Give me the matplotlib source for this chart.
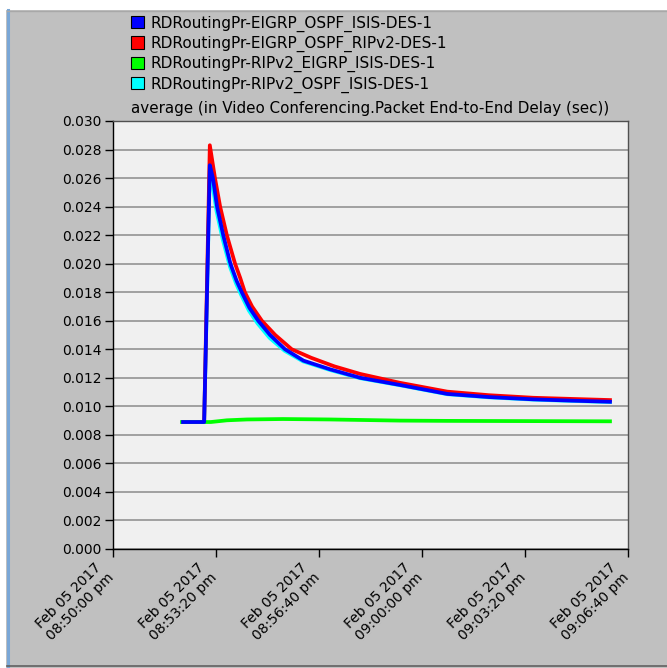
import matplotlib
matplotlib.use("Agg")
import matplotlib.pyplot as plt
import matplotlib.transforms as mtransforms
from matplotlib.patches import Patch, Rectangle
from matplotlib.lines import Line2D

# ---- data (seconds after 08:50:00 pm) ----
series_names = [
    "RDRoutingPr-EIGRP_OSPF_ISIS-DES-1",
    "RDRoutingPr-EIGRP_OSPF_RIPv2-DES-1",
    "RDRoutingPr-RIPv2_EIGRP_ISIS-DES-1",
    "RDRoutingPr-RIPv2_OSPF_ISIS-DES-1",
]
series_colors = ["#0000ff", "#ff0000", "#00ff00", "#00ffff"]

blue_t = [136, 177, 188, 194, 202, 214, 228, 240, 250, 265, 282, 305, 334, 370, 421,
          480, 557, 649, 730, 816, 890, 965]
blue_v = [0.0089, 0.0089, 0.0269, 0.0260, 0.0240, 0.0220, 0.0200, 0.0188, 0.0180, 0.0169,
          0.0160, 0.0150, 0.0140, 0.0132, 0.0126, 0.0120, 0.0115, 0.01087, 0.01065, 0.01049,
          0.01040, 0.01032]

red_t = [136, 177, 188, 198, 208, 221, 237, 247, 256, 270, 289, 315, 347, 385, 430,
         480, 557, 649, 730, 816, 890, 965]
red_v = [0.0089, 0.0089, 0.0283, 0.0260, 0.0240, 0.0220, 0.0200, 0.0190, 0.0180, 0.0170,
         0.0160, 0.0150, 0.0140, 0.0134, 0.0128, 0.01227, 0.01165, 0.01103, 0.01078, 0.01060,
         0.01052, 0.01044]

green_t = [134, 177, 190, 221, 260, 330, 420, 557, 650, 751, 860, 965]
green_v = [0.0089, 0.0089, 0.00890, 0.00902, 0.00908, 0.00911, 0.00908, 0.00900, 0.00898, 0.00897,
           0.00896, 0.00895]

cyan_t = [136, 177, 188, 193, 201, 213, 227, 239, 249, 264, 281, 304, 333, 369, 421,
          480, 557, 649, 730, 816, 890, 965]
cyan_v = [0.0089, 0.0089, 0.0265, 0.0256, 0.0237, 0.0217, 0.0198, 0.0186, 0.0178, 0.0167,
          0.0158, 0.0148, 0.0139, 0.01315, 0.01255, 0.01197, 0.01148, 0.01085, 0.01063, 0.01047,
          0.01038, 0.01030]

x_ticks = [0, 200, 400, 600, 800, 1000]
x_tick_labels = [
    "Feb 05 2017\n08:50:00 pm",
    "Feb 05 2017\n08:53:20 pm",
    "Feb 05 2017\n08:56:40 pm",
    "Feb 05 2017\n09:00:00 pm",
    "Feb 05 2017\n09:03:20 pm",
    "Feb 05 2017\n09:06:40 pm",
]
y_ticks = [0.000, 0.002, 0.004, 0.006, 0.008, 0.010, 0.012, 0.014, 0.016, 0.018,
           0.020, 0.022, 0.024, 0.026, 0.028, 0.030]
title = "average (in Video Conferencing.Packet End-to-End Delay (sec))"

plt.rcParams["font.family"] = ["DejaVu Sans"]
W, H = 667, 668
fig = plt.figure(figsize=(W / 100, H / 100), dpi=100, facecolor="#c0c0c0")

# window decorations
fig.patches.append(Rectangle((0, 1 - 10 / H), 1, 10 / H, transform=fig.transFigure,
                             facecolor="white", edgecolor="none", zorder=0))
fig.patches.append(Rectangle((0, 0), 6 / W, 1, transform=fig.transFigure,
                             facecolor="white", edgecolor="none", zorder=0))
fig.lines.append(Line2D([7.5 / W, 7.5 / W], [0, 1 - 10 / H], transform=fig.transFigure,
                        color="#7aa7d6", lw=2.2))
fig.lines.append(Line2D([7 / W, 1], [1 - 10.5 / H, 1 - 10.5 / H], transform=fig.transFigure,
                        color="#a8a8a8", lw=1))
fig.lines.append(Line2D([7 / W, 1], [2.5 / H, 2.5 / H], transform=fig.transFigure,
                        color="#606060", lw=1.2))

left, right = 113 / W, 628 / W
bottom, top = 1 - 549 / H, 1 - 121 / H
ax = fig.add_axes([left, bottom, right - left, top - bottom])
ax.set_facecolor("#f0f0f0")

lw = 2.7
ax.plot(cyan_t, cyan_v, color=series_colors[3], lw=lw, zorder=3, solid_joinstyle="round")
ax.plot(red_t, red_v, color=series_colors[1], lw=lw, zorder=4, solid_joinstyle="round")
ax.plot(green_t, green_v, color=series_colors[2], lw=lw, zorder=4, solid_joinstyle="round")
ax.plot(blue_t, blue_v, color=series_colors[0], lw=lw, zorder=5, solid_joinstyle="round")

ax.set_xlim(0, 1000)
ax.set_ylim(0, 0.030)
ax.set_yticks(y_ticks)
ax.set_yticklabels([f"{v:.3f}" for v in y_ticks])
ax.set_xticks(x_ticks)
ax.set_xticklabels(x_tick_labels, rotation=45, ha="right", va="top",
                   rotation_mode="anchor", multialignment="center")
ax.tick_params(axis="both", labelsize=10, colors="black", length=6, width=1, direction="out")
ax.tick_params(axis="y", pad=2)
ax.tick_params(axis="x", pad=5)
offset = mtransforms.ScaledTranslation(-0.18, 0.05, fig.dpi_scale_trans)
for lab in ax.get_xticklabels():
    lab.set_transform(lab.get_transform() + offset)
ax.yaxis.grid(True, color="#a0a0a0", lw=1.4)
ax.xaxis.grid(False)
ax.set_axisbelow(True)
for s in ax.spines.values():
    s.set_color("black")
    s.set_linewidth(1)
ax.spines["right"].set_color("#505050")
ax.spines["top"].set_color("#505050")

ax.set_title(title, fontsize=10.9, pad=6)

handles = [Patch(facecolor=c, edgecolor="black", linewidth=0.8) for c in series_colors]
fig.legend(handles, series_names, loc="upper left",
           bbox_to_anchor=(131 / W, 1 - 15.5 / H), frameon=False, fontsize=11,
           handlelength=0.85, handleheight=0.85, handletextpad=0.45,
           labelspacing=0.27, borderpad=0, borderaxespad=0)

fig.savefig("out.png", dpi=100, facecolor=fig.get_facecolor())
